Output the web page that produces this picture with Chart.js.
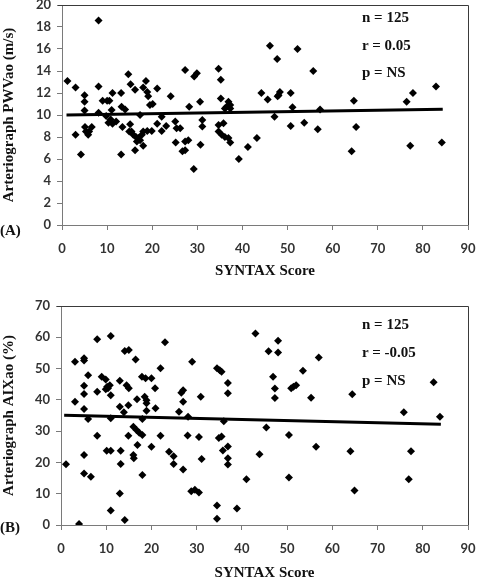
<!DOCTYPE html>
<html>
<head>
<meta charset="utf-8">
<script src="https://cdn.jsdelivr.net/npm/chart.js@4.4.1/dist/chart.umd.min.js"></script>
<style>
  html, body { margin: 0; padding: 0; background: #ffffff; }
  #wrap { position: relative; width: 478px; height: 582px; overflow: hidden; }
  canvas { position: absolute; left: 0; }
  .lbl { position: absolute; font-family: "Liberation Serif", "Times New Roman", serif; font-weight: bold; font-size: 15px; color: #111; white-space: nowrap; line-height: 1; }
</style>
</head>
<body>
<div id="wrap">
  <canvas id="chartA" width="478" height="282" style="top:0px"></canvas>
  <canvas id="chartB" width="478" height="292" style="top:290px"></canvas>
  <div class="lbl" style="left:362px; top:10px;">n = 125</div>
  <div class="lbl" style="left:362px; top:38px;">r = 0.05</div>
  <div class="lbl" style="left:362px; top:65px;">p = NS</div>
  <div class="lbl" style="left:0px; top:223px;">(A)</div>
  <div class="lbl" style="left:362px; top:317px;">n = 125</div>
  <div class="lbl" style="left:362px; top:345px;">r = -0.05</div>
  <div class="lbl" style="left:362px; top:373px;">p = NS</div>
  <div class="lbl" style="left:0px; top:520px;">(B)</div>
</div>
<script>
// ---- Panel A: SYNTAX Score vs Arteriograph PWVao (m/s)
const pwvScore = [1.2,3.0,3.0,4.2,5.0,5.0,5.0,5.1,5.3,5.8,6.0,6.6,8.1,8.1,8.1,9.0,10.0,10.5,9.8,10.3,
  10.8,11.2,11.2,11.0,13.1,13.2,14.0,14.7,15.2,16.2,18.6,18.0,18.9,19.1,19.5,21.1,24.1,13.4,15.1,15.4,
  15.8,16.4,16.9,17.3,17.7,18.0,18.9,19.9,21.1,22.1,23.1,13.1,16.2,18.0,27.3,29.3,29.9,34.7,35.2,28.2,
  30.6,35.2,36.9,36.5,37.3,36.1,37.3,25.1,26.2,25.2,27.3,28.0,26.7,27.3,29.2,30.7,31.1,31.1,34.7,35.8,
  34.7,35.4,36.1,36.9,37.3,39.2,41.2,43.2,46.1,52.2,47.7,55.7,44.2,45.6,47.8,48.3,48.0,50.7,51.1,47.1,
  50.7,53.7,56.7,57.2,64.7,65.2,76.4,77.8,82.9,77.2,84.2,64.2,16.6,22.1,25.4,14.9,17.3,20.1,12.0];
const pwvValue = [13.1,12.5,8.2,6.4,11.8,11.2,10.4,8.9,8.5,8.2,8.5,8.9,18.6,12.6,10.2,11.3,11.3,11.3,9.9,9.3,
  9.6,9.2,12.0,10.45,12.0,10.75,10.5,13.7,12.8,12.3,13.1,12.5,12.1,11.7,10.9,12.4,11.7,8.9,9.15,8.5,
  8.2,8.0,7.9,7.7,8.2,8.5,8.55,8.55,9.2,8.55,9.0,6.4,6.8,7.2,14.1,13.5,13.8,14.2,13.2,10.75,
  11.2,11.5,11.2,10.75,10.9,10.6,10.6,9.4,8.8,7.5,7.6,7.7,6.7,6.8,5.1,7.3,9.55,8.95,9.1,9.25,
  8.5,8.2,8.0,7.9,7.5,6.0,7.1,7.9,16.3,16.0,15.1,14.0,12.0,11.4,11.7,12.1,11.8,12.0,10.7,9.85,
  9.0,9.3,8.7,10.5,11.3,8.9,11.2,12.0,12.6,7.2,7.5,6.7,7.6,9.85,8.8,8.5,10.0,11.0,9.4];
const trendAScore = [1.0, 84.4];
const trendAValue = [10.0, 10.52];

// ---- Panel B: SYNTAX Score vs Arteriograph AIXao (%)
const aixScore = [3.1,3.1,5.1,5.1,5.1,5.1,5.1,6.0,6.0,8.0,8.0,9.0,9.9,10.2,10.8,10.4,9.9,11.0,11.0,11.0,
  13.0,13.0,13.9,14.1,15.0,14.5,15.0,14.9,16.5,16.8,16.0,16.7,17.3,18.0,17.9,18.7,20.0,18.5,18.9,18.9,
  18.9,20.8,20.9,22.0,23.0,26.1,26.6,27.0,27.0,28.1,29.0,30.9,34.5,35.1,35.5,36.9,36.9,36.0,1.1,4.0,
  5.1,5.1,6.6,8.0,10.1,11.0,11.0,13.2,13.2,13.0,14.1,14.9,16.0,16.1,16.9,18.0,20.0,22.0,23.9,24.9,
  24.9,27.0,28.0,28.8,29.6,30.5,30.5,31.1,34.5,34.5,34.9,35.5,35.8,36.9,36.9,36.9,38.9,43.0,45.9,48.0,
  48.0,57.0,53.5,46.9,47.3,50.9,51.4,52.0,47.3,55.3,64.4,82.4,75.8,83.8,45.4,50.4,56.4,43.9,64.0,77.4,
  41.0,50.4,64.9,76.9,18.0];
const aixValue = [52.2,39.4,53.3,52.6,44.5,41.9,37.1,47.9,33.9,59.4,42.6,47.4,46.5,44.2,44.7,43.7,43.4,60.4,41.5,34.1,
  46.1,37.8,36.0,55.6,55.9,44.7,43.7,38.3,52.9,40.2,31.4,30.4,29.5,33.9,47.4,46.9,46.9,41.0,39.9,38.9,
  36.5,43.7,37.3,50.1,58.4,36.2,42.3,43.1,39.4,34.6,52.2,41.0,50.1,49.5,49.0,45.4,42.1,33.2,19.4,0.3,
  22.4,16.5,15.4,28.5,23.7,23.7,4.6,23.7,19.5,10.1,1.6,28.5,22.4,21.3,25.6,16.0,25.0,28.5,23.4,22.0,
  19.5,17.7,28.6,10.8,11.3,10.4,28.1,21.1,6.2,2.0,27.8,28.3,23.8,25.1,21.3,19.3,5.3,61.2,55.5,55.1,
  58.9,53.5,49.3,47.4,43.6,43.7,44.2,44.7,40.6,40.7,41.8,45.6,36.0,34.6,31.2,28.8,25.0,22.6,23.6,23.6,
  14.6,15.2,11.0,14.6,28.8];
const trendBScore = [0.7, 84.0];
const trendBValue = [35.1, 32.2];

// ---- Axis ticks / labels
const xTickMax = 90, xTickStep = 10;
const yTicksA = { min: 0, max: 20, step: 2 };
const yTicksB = { min: 0, max: 70, step: 10 };
const xTitle = "SYNTAX Score";
const yTitleA = "Arteriograph PWVao (m/s)";
const yTitleB = "Arteriograph AIXao (%)";

function pts(xs, ys) { return xs.map((x, i) => ({ x: x, y: ys[i] })); }

const frame = {
  id: 'frame',
  afterDraw(chart) {
    const a = chart.chartArea, ctx = chart.ctx;
    ctx.save();
    ctx.strokeStyle = '#3a3a3a';
    ctx.lineWidth = 1;
    ctx.beginPath();
    ctx.moveTo(a.left - 4, a.top + 0.5);
    ctx.lineTo(a.right + 0.5, a.top + 0.5);
    ctx.lineTo(a.right + 0.5, a.bottom);
    ctx.stroke();
    ctx.restore();
  }
};

function makeChart(id, xs, ys, tx, ty, yt, yTitle, padTop, yWidth, titleBottom) {
  return new Chart(document.getElementById(id), {
    type: 'scatter',
    data: {
      datasets: [
        { data: pts(xs, ys), pointStyle: 'rectRot', pointRadius: 4, pointHoverRadius: 4,
          backgroundColor: '#000', borderColor: '#000', borderWidth: 0, order: 2 },
        { type: 'line', data: pts(tx, ty), borderColor: '#000', borderWidth: 3, pointRadius: 0,
          fill: false, order: 1 }
      ]
    },
    options: {
      responsive: false,
      devicePixelRatio: 1,
      animation: false,
      events: [],
      layout: { padding: { top: padTop, right: 10, left: 0, bottom: 0 } },
      plugins: { legend: { display: false }, tooltip: { enabled: false } },
      scales: {
        x: {
          type: 'linear', min: 0, max: xTickMax,
          ticks: { stepSize: xTickStep, color: '#333', padding: 11,
                   font: { family: 'Lato', size: 13, weight: 'bold' } },
          grid: { drawOnChartArea: false, drawTicks: true, tickLength: 5, color: '#7a7a7a' },
          border: { display: true, color: '#7a7a7a', width: 1 },
          title: { display: true, text: xTitle, color: '#111', padding: { top: 0, bottom: titleBottom },
                   font: { family: 'Liberation Serif', size: 15, weight: 'bold' } },
          afterFit(s) { s.height = 57; s.paddingLeft = 0; s.paddingRight = 0; }
        },
        y: {
          type: 'linear', min: yt.min, max: yt.max,
          ticks: { stepSize: yt.step, color: '#333', padding: 6,
                   font: { family: 'Lato', size: 13, weight: 'bold' } },
          grid: { drawOnChartArea: false, drawTicks: true, tickLength: 5, color: '#7a7a7a' },
          border: { display: true, color: '#7a7a7a', width: 1 },
          title: { display: true, text: yTitle, color: '#111', padding: 0,
                   font: { family: 'Liberation Serif', size: 15, weight: 'bold' } },
          afterFit(s) { s.width = yWidth; s.paddingTop = 0; s.paddingBottom = 0; }
        }
      }
    },
    plugins: [frame]
  });
}

makeChart('chartA', pwvScore, pwvValue, trendAScore, trendAValue, yTicksA, yTitleA, 5, 62, 2);
makeChart('chartB', aixScore, aixValue, trendBScore, trendBValue, yTicksB, yTitleB, 16, 61, 0);
</script>
</body>
</html>
